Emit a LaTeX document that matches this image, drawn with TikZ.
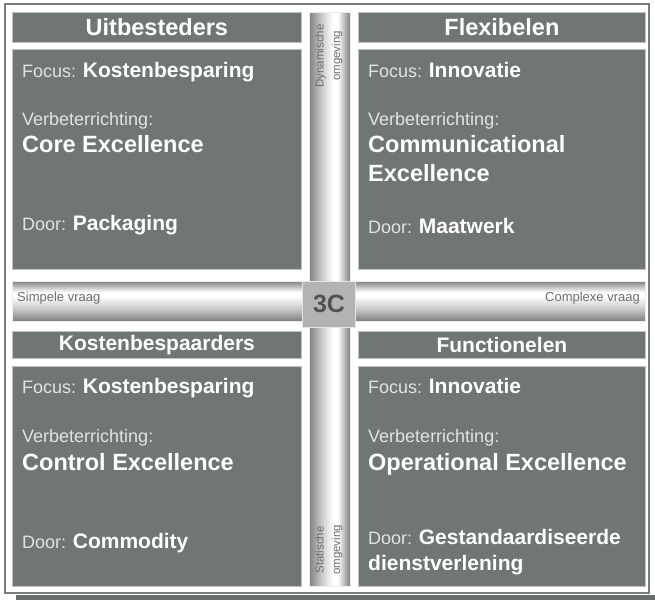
\documentclass[tikz,border=0pt]{standalone}
\usepackage{fontspec}
\setmainfont{Liberation Sans}
\usetikzlibrary{positioning}

\definecolor{panel}{RGB}{112,118,116}
\definecolor{panelEdge}{RGB}{190,194,193}
\definecolor{frameEdge}{RGB}{120,124,123}
\definecolor{shadowGray}{RGB}{104,108,107}
\definecolor{barDark}{RGB}{128,128,128}
\definecolor{barMid}{RGB}{200,200,200}
\definecolor{barText}{RGB}{110,110,110}
\definecolor{softText}{RGB}{225,228,227}
\definecolor{hubFill}{RGB}{178,180,180}
\definecolor{hubText}{RGB}{80,82,82}

% cylinder-like shading for the two axes
\pgfdeclarehorizontalshading{vaxis}{100bp}{color(0bp)=(barDark); color(25bp)=(barDark); color(40bp)=(barMid); color(54bp)=(white); color(60bp)=(white); color(75bp)=(barDark); color(100bp)=(barDark)}
\pgfdeclareverticalshading{haxis}{100bp}{color(0bp)=(barDark); color(25bp)=(barDark); color(40bp)=(barMid); color(56bp)=(white); color(61bp)=(white); color(75bp)=(barDark); color(100bp)=(barDark)}

\tikzset{
  panelbox/.style={fill=panel, draw=panelEdge, line width=0.8pt, inner sep=0pt, anchor=north west},
  headtext/.style={text=white, font=\fontsize{23.5}{26}\selectfont\bfseries},
  headtextsmall/.style={text=white, font=\fontsize{21}{24}\selectfont\bfseries},
  line1/.style={anchor=base west, inner sep=0pt, text=softText, font=\fontsize{18}{21}\selectfont},
  bigtext/.style={anchor=base west, inner sep=0pt, text=white, align=left, font=\fontsize{23.5}{29}\selectfont\bfseries},
  axislabel/.style={inner sep=0pt, text=barText, font=\fontsize{13}{15}\selectfont},
  sidelabel/.style={inner sep=0pt, text=barText, align=center, rotate=90, font=\fontsize{11.5}{16.5}\selectfont},
}
\newcommand{\keyword}[1]{{\fontsize{21}{24}\selectfont\bfseries\color{white}#1}}

\begin{document}
\begin{tikzpicture}[x=1pt, y=-1pt]
\useasboundingbox (0,0) rectangle (655,600);

% drop shadow and frame
\fill[shadowGray] (16,595) rectangle (655,600);
\draw[frameEdge, fill=white, line width=1.2pt] (5,4) rectangle (649,593);

% axes
\path[shading=vaxis, draw=white!85!gray, line width=0.4pt] (309,12) rectangle (350,586);
\path[shading=haxis, draw=white!85!gray, line width=0.4pt] (12,281) rectangle (645,321);
\node[axislabel, anchor=west] (simple) at (17,298) {Simpele vraag};
\node[axislabel, anchor=east] (complex) at (640,298) {Complexe vraag};
\node[sidelabel] (dyn) at (329,56) {Dynamische\\omgeving};
\node[sidelabel] (stat) at (329,550) {Statische\\omgeving};

% centre hub
\node[fill=hubFill, draw=white!80!gray, line width=0.8pt, minimum width=53pt, minimum height=46pt, inner sep=0pt,
      text=hubText, font=\fontsize{25}{28}\selectfont\bfseries] (hub) at (329,304) {3C};

% quadrant headers
\node[panelbox, minimum width=289pt, minimum height=30pt] (hUL) at (12,12) {};
\node[panelbox, minimum width=287pt, minimum height=30pt] (hUR) at (358,12) {};
\node[panelbox, minimum width=289pt, minimum height=27pt] (hLL) at (12,331) {};
\node[panelbox, minimum width=287pt, minimum height=27pt] (hLR) at (358,331) {};
\node[headtext] at (hUL.center) {Uitbesteders};
\node[headtext] at (hUR.center) {Flexibelen};
\node[headtextsmall] at (hLL.center) {Kostenbespaarders};
\node[headtextsmall] at (hLR.center) {Functionelen};

% quadrant bodies
\node[panelbox, minimum width=289pt, minimum height=220pt] (bUL) at (12,49) {};
\node[panelbox, minimum width=287pt, minimum height=220pt] (bUR) at (358,49) {};
\node[panelbox, minimum width=289pt, minimum height=220pt] (bLL) at (12,366) {};
\node[panelbox, minimum width=287pt, minimum height=220pt] (bLR) at (358,366) {};

% upper left
\node[line1] (ulFocus) at (22,77) {Focus: \keyword{Kostenbesparing}};
\node[line1] (ulVerb) at (22,125) {Verbeterrichting:};
\node[bigtext] (ulBig) at (22,152) {Core Excellence};
\node[line1] (ulDoor) at (22,230) {Door: \keyword{Packaging}};

% upper right
\node[line1] (urFocus) at (368,77) {Focus: \keyword{Innovatie}};
\node[line1] (urVerb) at (368,125) {Verbeterrichting:};
\node[bigtext] (urBig) at (368,152) {Communicational};
\node[bigtext] (urBig2) at (368,181) {Excellence};
\node[line1] (urDoor) at (368,233) {Door: \keyword{Maatwerk}};

% lower left
\node[line1] (llFocus) at (22,393) {Focus: \keyword{Kostenbesparing}};
\node[line1] (llVerb) at (22,442) {Verbeterrichting:};
\node[bigtext] (llBig) at (22,470) {Control Excellence};
\node[line1] (llDoor) at (22,548) {Door: \keyword{Commodity}};

% lower right
\node[line1] (lrFocus) at (368,393) {Focus: \keyword{Innovatie}};
\node[line1] (lrVerb) at (368,442) {Verbeterrichting:};
\node[bigtext] (lrBig) at (368,470) {Operational Excellence};
\node[line1] (lrDoor) at (368,544) {Door: \keyword{Gestandaardiseerde}};
\node[line1] (lrDoor2) at (368,570) {\keyword{dienstverlening}};
\end{tikzpicture}
\end{document}
